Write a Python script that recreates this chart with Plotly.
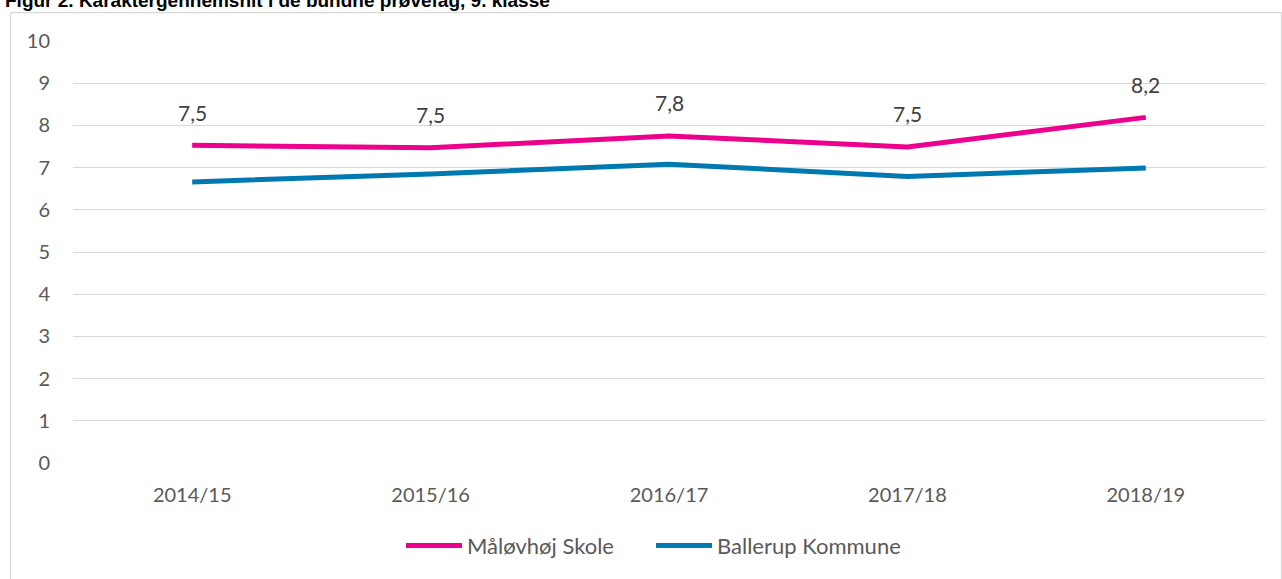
import plotly.graph_objects as go

categories = ["2014/15", "2015/16", "2016/17", "2017/18", "2018/19"]
maloevhoej = [7.53, 7.47, 7.75, 7.49, 8.19]
ballerup = [6.66, 6.85, 7.08, 6.79, 6.99]
maloevhoej_labels = ["7,5", "7,5", "7,8", "7,5", "8,2"]
y_ticks = list(range(0, 11))

W, H = 1282, 579
L, R, T, B = 73, 17, 41, 114
pw, ph = W - L - R, H - T - B

FONT = "Lato, 'Open Sans', sans-serif"

fig = go.Figure()
fig.add_trace(go.Scatter(x=categories, y=maloevhoej, mode="lines", name="Måløvhøj Skole",
                         line=dict(color="#EC008C", width=5)))
fig.add_trace(go.Scatter(x=categories, y=ballerup, mode="lines", name="Ballerup Kommune",
                         line=dict(color="#0079B0", width=5)))

annotations = []
for c, v, t in zip(categories, maloevhoej, maloevhoej_labels):
    annotations.append(dict(x=c, y=v, text=t, showarrow=False, yshift=33,
                            font=dict(family=FONT, size=21, color="#404040")))

annotations.append(dict(xref="paper", yref="paper", x=(3 - L) / pw, y=1 + (T - 7) / ph,
                        xanchor="left", yanchor="bottom", yshift=-6, showarrow=False,
                        text="<b>Figur 2. Karaktergennemsnit i de bundne prøvefag, 9. klasse</b>",
                        font=dict(family="'Liberation Sans', Arial, sans-serif", size=19, color="#000000")))

shapes = [dict(type="rect", xref="paper", yref="paper",
               x0=(10.5 - L) / pw, x1=(1281.5 - L) / pw, y0=-0.5, y1=1 + (T - 12.5) / ph,
               line=dict(color="#D9D9D9", width=1.2), fillcolor="rgba(0,0,0,0)", layer="below")]

fig.update_layout(
    width=W, height=H,
    margin=dict(l=L, r=R, t=T, b=B, pad=0),
    paper_bgcolor="white", plot_bgcolor="white",
    font=dict(family=FONT, size=20, color="#595959"),
    xaxis=dict(type="category", showgrid=False, zeroline=False, showline=False,
               ticks="", tickfont=dict(size=20, color="#595959"), range=[-0.5, 4.5],
               ticklabelstandoff=18),
    yaxis=dict(range=[0, 10], tickvals=y_ticks, ticktext=[str(v) for v in y_ticks],
               showgrid=True, gridcolor="#D9D9D9", gridwidth=1.3, zeroline=False,
               showline=False, ticks="", ticklabelstandoff=22,
               tickfont=dict(size=20, color="#595959")),
    legend=dict(orientation="h", x=(401 - L) / pw, xanchor="left", y=(465 - 548) / ph,
                yanchor="middle", font=dict(size=22, color="#595959"), itemwidth=56,
                entrywidth=179, entrywidthmode="pixels", tracegroupgap=0),
    showlegend=True,
    annotations=annotations,
    shapes=shapes,
)

fig.write_html("out.html", config={"displayModeBar": False},
               post_script="document.body.style.margin='0';document.body.style.overflow='hidden';")
